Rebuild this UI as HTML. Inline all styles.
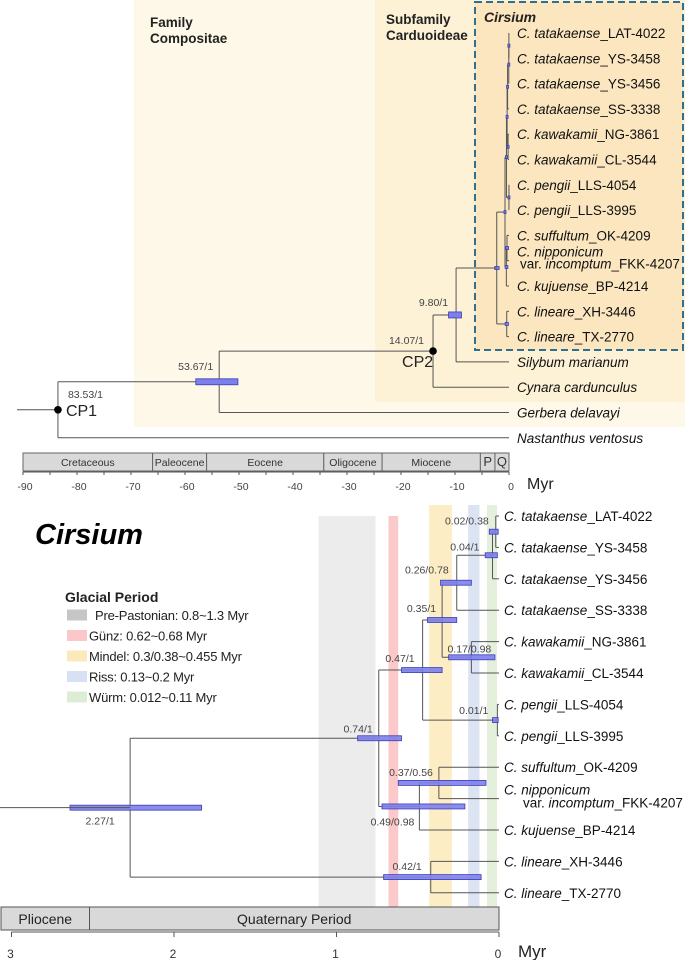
<!DOCTYPE html>
<html><head><meta charset="utf-8"><style>
html,body{margin:0;padding:0;background:#fff;}
svg{display:block;font-family:"Liberation Sans",sans-serif;}
.tip{font-size:13.5px;fill:#111;}
.nl{font-size:10.5px;fill:#444;}
</style></head><body>
<svg id="fig" width="685" height="960" viewBox="0 0 685 960" xmlns="http://www.w3.org/2000/svg">
<g id="top"></g>
<g id="bot"></g>
</svg>
<script>
// ---------- data ----------
const cirsiumTips = [
 ["C. tatakaense","_LAT-4022"],["C. tatakaense","_YS-3458"],["C. tatakaense","_YS-3456"],["C. tatakaense","_SS-3338"],
 ["C. kawakamii","_NG-3861"],["C. kawakamii","_CL-3544"],["C. pengii","_LLS-4054"],["C. pengii","_LLS-3995"],
 ["C. suffultum","_OK-4209"],["C. nipponicum",""],["C. kujuense","_BP-4214"],["C. lineare","_XH-3446"],["C. lineare","_TX-2770"]];
const outgroupTips = ["Silybum marianum","Cynara cardunculus","Gerbera delavayi","Nastanthus ventosus"];
const nodeIds = ["F","E","D","K","C","P","B","M","N","A","L","R"];
const nodeChildren = {F:[0,1],E:["F",2],D:["E",3],K:[4,5],C:["D","K"],P:[6,7],B:["C","P"],M:[8,9],N:["M",10],A:["B","N"],L:[11,12],R:["A","L"]};
const nodeAges = {F:0.02,E:0.04,D:0.26,K:0.17,C:0.35,P:0.01,B:0.47,M:0.37,N:0.49,A:0.74,L:0.42,R:2.27};
const hpdLow = {F:0.005,E:0.01,D:0.17,K:0.025,C:0.26,P:0.005,B:0.35,M:0.08,N:0.21,A:0.60,L:0.11,R:1.83};
const hpdHigh = {F:0.06,E:0.085,D:0.36,K:0.31,C:0.44,P:0.04,B:0.60,M:0.62,N:0.72,A:0.87,L:0.71,R:2.64};
const supportLabels = {F:"0.02/0.38",E:"0.04/1",D:"0.26/0.78",K:"0.17/0.98",C:"0.35/1",P:"0.01/1",B:"0.47/1",M:"0.37/0.56",N:"0.49/0.98",A:"0.74/1",L:"0.42/1",R:"2.27/1"};
const outerAges = {N98:9.80, CP2:14.07, G:53.67, CP1:83.53};
const outerHpdLow = {N98:8.8, G:50.2};
const outerHpdHigh = {N98:11.2, G:58.0};
const outerLabels = {N98:"9.80/1", CP2:"14.07/1", G:"53.67/1", CP1:"83.53/1"};
const topTicks = [-90,-85,-80,-75,-70,-65,-60,-55,-50,-45,-40,-35,-30,-25,-20,-15,-10,-5,0];
const topTickLabels = [-90,-80,-70,-60,-50,-40,-30,-20,-10,0];
const epochNames = ["Cretaceous","Paleocene","Eocene","Oligocene","Miocene","P","Q"];
const epochBounds = [-90,-66,-56,-34.3,-23.5,-5.3,-2.6,0];
const botTicks = [3,2,1,0];
const periodNames = ["Pliocene","Quaternary Period"];
const periodBounds = [3.0,2.52,0];
const glacialNames = ["Pre-Pastonian: 0.8~1.3 Myr","Günz: 0.62~0.68 Myr","Mindel: 0.3/0.38~0.455 Myr","Riss: 0.13~0.2 Myr","Würm: 0.012~0.11 Myr"];
const glacialStart = [1.11,0.68,0.43,0.19,0.074];
const glacialEnd = [0.76,0.62,0.29,0.12,0.012];

// ---------- helpers ----------
const NS="http://www.w3.org/2000/svg";
function mk(parent,tag,attrs,text){const e=document.createElementNS(NS,tag);for(const k in attrs)e.setAttribute(k,attrs[k]);if(text!==undefined)e.textContent=text;parent.appendChild(e);return e;}
const xTop = a => 509 - a*5.4;
const xTopV = v => 509 + v*5.4;
const xBot = a => 499 - a*162.5;
const yTopTip = i => 33 + i*25.3;
const yBotTip = i => 516 + i*31.4;
const LINE="#555", BARF="#7d80ec", BARS="#3b3fb5";

function layout(xf, yf){
  const pos={};
  function get(c){ if(typeof c==="number") return {x:xf(0),y:yf(c)}; return place(c); }
  function place(id){ if(pos[id]) return pos[id]; const ch=nodeChildren[id].map(get); pos[id]={x:xf(nodeAges[id]),y:(ch[0].y+ch[1].y)/2,ch:ch}; return pos[id]; }
  place("R"); return pos;
}
function drawTree(g,pos,xf,barH,minW){
  nodeIds.forEach(id=>{const p=pos[id];
    const v=mk(g,"line",{x1:p.x,x2:p.x,y1:p.ch[0].y,y2:p.ch[1].y,stroke:LINE,"stroke-width":1});
    
    
    p.ch.forEach(c=>{const h=mk(g,"line",{x1:p.x,x2:c.x,y1:c.y,y2:c.y,stroke:LINE,"stroke-width":1});
      
      });
  });
  nodeIds.forEach(id=>{const p=pos[id];let x1=xf(hpdHigh[id]),x2=xf(hpdLow[id]);let w=Math.max(minW,x2-x1);if(w>x2-x1){x1=p.x-w/2;}
    const b=mk(g,"rect",{x:x1,y:p.y-barH/2,width:w,height:barH,fill:BARF,stroke:BARS,"stroke-width":0.8,"fill-opacity":0.9});
    
    });
}

// ---------- TOP PANEL ----------
const T=document.getElementById("top");
let r;
r=mk(T,"rect",{x:134,y:0,width:551,height:427,fill:"#fef8e8"});


r=mk(T,"rect",{x:375,y:0,width:310,height:402,fill:"#fdf1d6"});


r=mk(T,"rect",{x:475,y:2,width:208,height:348,fill:"#fbe6bf",stroke:"#2f6f8f","stroke-width":2,"stroke-dasharray":"7,4"});


let t;
t=mk(T,"text",{x:150,y:27,"font-size":13.5,"font-weight":"bold",fill:"#222"},"Family");


t=mk(T,"text",{x:150,y:43,"font-size":13.5,"font-weight":"bold",fill:"#222"},"Compositae");


t=mk(T,"text",{x:386,y:24,"font-size":13.5,"font-weight":"bold",fill:"#222"},"Subfamily");


t=mk(T,"text",{x:386,y:40,"font-size":13.5,"font-weight":"bold",fill:"#222"},"Carduoideae");


t=mk(T,"text",{x:484,y:22,"font-size":14,"font-weight":"bold","font-style":"italic",fill:"#222"},"Cirsium");



const posT=layout(xTop,yTopTip);
drawTree(T,posT,xTop,3,2);
const yS=yTopTip(13), yC=yTopTip(14), yG=yTopTip(15), yN=yTopTip(16);
const n98={x:xTop(outerAges.N98),y:(posT.R.y+yS)/2};
const cp2={x:xTop(outerAges.CP2),y:(n98.y+yC)/2};
const gN={x:xTop(outerAges.G),y:(cp2.y+yG)/2};
const cp1={x:xTop(outerAges.CP1),y:(gN.y+yN)/2};
function seg(g,x1,y1,x2,y2,name){const l=mk(g,"line",{x1:x1,y1:y1,x2:x2,y2:y2,stroke:LINE,"stroke-width":1});}
seg(T,n98.x,posT.R.y,n98.x,yS,"node-connector");seg(T,n98.x,posT.R.y,posT.R.x,posT.R.y,"branch");seg(T,n98.x,yS,xTop(0),yS,"branch");
seg(T,cp2.x,n98.y,cp2.x,yC,"node-connector");seg(T,cp2.x,n98.y,n98.x,n98.y,"branch");seg(T,cp2.x,yC,xTop(0),yC,"branch");
seg(T,gN.x,cp2.y,gN.x,yG,"node-connector");seg(T,gN.x,cp2.y,cp2.x,cp2.y,"branch");seg(T,gN.x,yG,xTop(0),yG,"branch");
seg(T,cp1.x,gN.y,cp1.x,yN,"node-connector");seg(T,cp1.x,gN.y,gN.x,gN.y,"branch");seg(T,cp1.x,yN,xTop(0),yN,"branch");
seg(T,17,cp1.y,cp1.x,cp1.y,"root-stem");
[["N98",n98],["G",gN]].forEach(([k,p])=>{const b=mk(T,"rect",{x:xTop(outerHpdHigh[k]),y:p.y-3,width:xTop(outerHpdLow[k])-xTop(outerHpdHigh[k]),height:6,fill:BARF,stroke:BARS,"stroke-width":0.8});
 
 });
[cp1,cp2].forEach(p=>{const c=mk(T,"circle",{cx:p.x,cy:p.y,r:3.8,fill:"#000"});
 
 });
function lbl(g,x,y,s,anchor,cls,name,extra){const e=mk(g,"text",Object.assign({x:x,y:y,"text-anchor":anchor,class:cls},extra||{}),s);return e;}
lbl(T,n98.x-8,n98.y-9,outerLabels.N98,"end","nl","node-age-label");
lbl(T,cp2.x-9,cp2.y-7,outerLabels.CP2,"end","nl","node-age-label");
lbl(T,gN.x-6,gN.y-12,outerLabels.G,"end","nl","node-age-label");
lbl(T,cp1.x+10,cp1.y-12,outerLabels.CP1,"start","nl","node-age-label");
lbl(T,cp2.x-31,cp2.y+16,"CP2","start","","cp2-label",{"font-size":16,fill:"#222"});
lbl(T,cp1.x+8,cp1.y+6,"CP1","start","","cp1-label",{"font-size":16,fill:"#222"});
function tipLabel(g,x,y,i,name){
  const e=mk(g,"text",{x:x,y:y+5,class:"tip"});
  
  
  mk(e,"tspan",{"font-style":"italic"},cirsiumTips[i][0]);
  if(cirsiumTips[i][1]) mk(e,"tspan",{},cirsiumTips[i][1]);
  return e;
}
cirsiumTips.forEach((tp,i)=>{
  if(i===9){
    tipLabel(T,517,yTopTip(i)-9,i,"tip-label");
    const e=mk(T,"text",{x:520,y:yTopTip(i)+8,class:"tip"});
    
    
    mk(e,"tspan",{},"var. ");mk(e,"tspan",{"font-style":"italic"},"incomptum");mk(e,"tspan",{},"_FKK-4207");
  } else tipLabel(T,517,yTopTip(i),i,"tip-label");
});
outgroupTips.forEach((s,i)=>lbl(T,517,yTopTip(13+i)+5,s,"start","tip","outgroup-label",{"font-style":"italic"}));
epochNames.forEach((n,i)=>{const x1=xTopV(epochBounds[i]),x2=xTopV(epochBounds[i+1]);
  const b=mk(T,"rect",{x:x1,y:453,width:x2-x1,height:18,fill:"#d9d9d9",stroke:"#666","stroke-width":1});
  
  
  lbl(T,(x1+x2)/2,466,n,"middle","","epoch-label",{"font-size":n.length>1?10.5:13,fill:"#333"});});
seg(T,xTopV(-90),472,xTopV(0),472,"x-axis-line");
topTicks.forEach(v=>seg(T,xTopV(v),472,xTopV(v),475,"x-tick"));
topTickLabels.forEach(v=>lbl(T,xTopV(v)+2,490,String(v),"middle","","x-tick-label",{"font-size":10.5,fill:"#444"}));
lbl(T,527,489,"Myr","start","","x-axis-title",{"font-size":16,fill:"#222"});

// ---------- BOTTOM PANEL ----------
const B=document.getElementById("bot");
const bandColors=["#ececec","#fbc9ca","#fcedc4","#dce4f4","#e4f0dc"];
const swatchColors=["#c6c6c6","#fbc7c9","#fce9bb","#d8e1f3","#ddecd5"];
glacialStart.forEach((s,i)=>{const x1=xBot(s),x2=xBot(glacialEnd[i]);const top=i<2?516:505;
  const b=mk(B,"rect",{x:x1,y:top,width:x2-x1,height:907-top,fill:bandColors[i]});
  
  });
lbl(B,35,544,"Cirsium","start","","panel-title",{"font-size":29,"font-weight":"bold","font-style":"italic",fill:"#000"});
lbl(B,65,602,"Glacial Period","start","","legend-title",{"font-size":14,"font-weight":"bold",fill:"#222"});
glacialNames.forEach((n,i)=>{const y=615+i*20.5;
  const s=mk(B,"rect",{x:67,y:y-5.5,width:20,height:11,fill:swatchColors[i]});
  
  
  lbl(B,i===0?95:89,y+5,n,"start","","legend-entry",{"font-size":13,fill:"#222","letter-spacing":"-0.2"});});
const posB=layout(xBot,yBotTip);
drawTree(B,posB,xBot,5,4);
seg(B,0,posB.R.y,posB.R.x,posB.R.y,"root-stem");
const off={F:[-7,-7,"end"],E:[-13,-5,"end"],D:[-8,-9,"end"],K:[-2,-5,"middle"],C:[-6,-8,"end"],P:[-9,-6,"end"],B:[-8,-8,"end"],M:[-6,-7,"end"],N:[-5,19,"end"],A:[-6,-6,"end"],L:[-9,-7,"end"],R:[-30,17,"middle"]};
nodeIds.forEach(id=>{const p=posB[id];const o=off[id];lbl(B,p.x+o[0],p.y+o[1],supportLabels[id],o[2],"nl","node-age-label");});
cirsiumTips.forEach((tp,i)=>{
  if(i===9){
    tipLabel(B,504,yBotTip(i)-9,i,"tip-label");
    const e=mk(B,"text",{x:523,y:yBotTip(i)+9,class:"tip","font-size":"13px"});
    
    
    mk(e,"tspan",{},"var. ");mk(e,"tspan",{"font-style":"italic"},"incomptum");mk(e,"tspan",{},"_FKK-4207");
  } else tipLabel(B,504,yBotTip(i),i,"tip-label");
});
periodNames.forEach((n,i)=>{const x1=i===0?1:xBot(periodBounds[i]),x2=xBot(periodBounds[i+1]);
  const b=mk(B,"rect",{x:x1,y:907,width:x2-x1,height:23,fill:"#d9d9d9",stroke:"#555","stroke-width":1});
  
  
  lbl(B,(x1+x2)/2,924,n,"middle","","period-label",{"font-size":14,fill:"#222"});});
seg(B,xBot(3),932,xBot(0),932,"x-axis-line");
botTicks.forEach(v=>{seg(B,xBot(v),932,xBot(v),937,"x-tick");lbl(B,xBot(v)-1,958,String(v),"middle","","x-tick-label",{"font-size":12,fill:"#333"});});
lbl(B,518,957,"Myr","start","","x-axis-title",{"font-size":17,fill:"#222"});
</script>
</body></html>
